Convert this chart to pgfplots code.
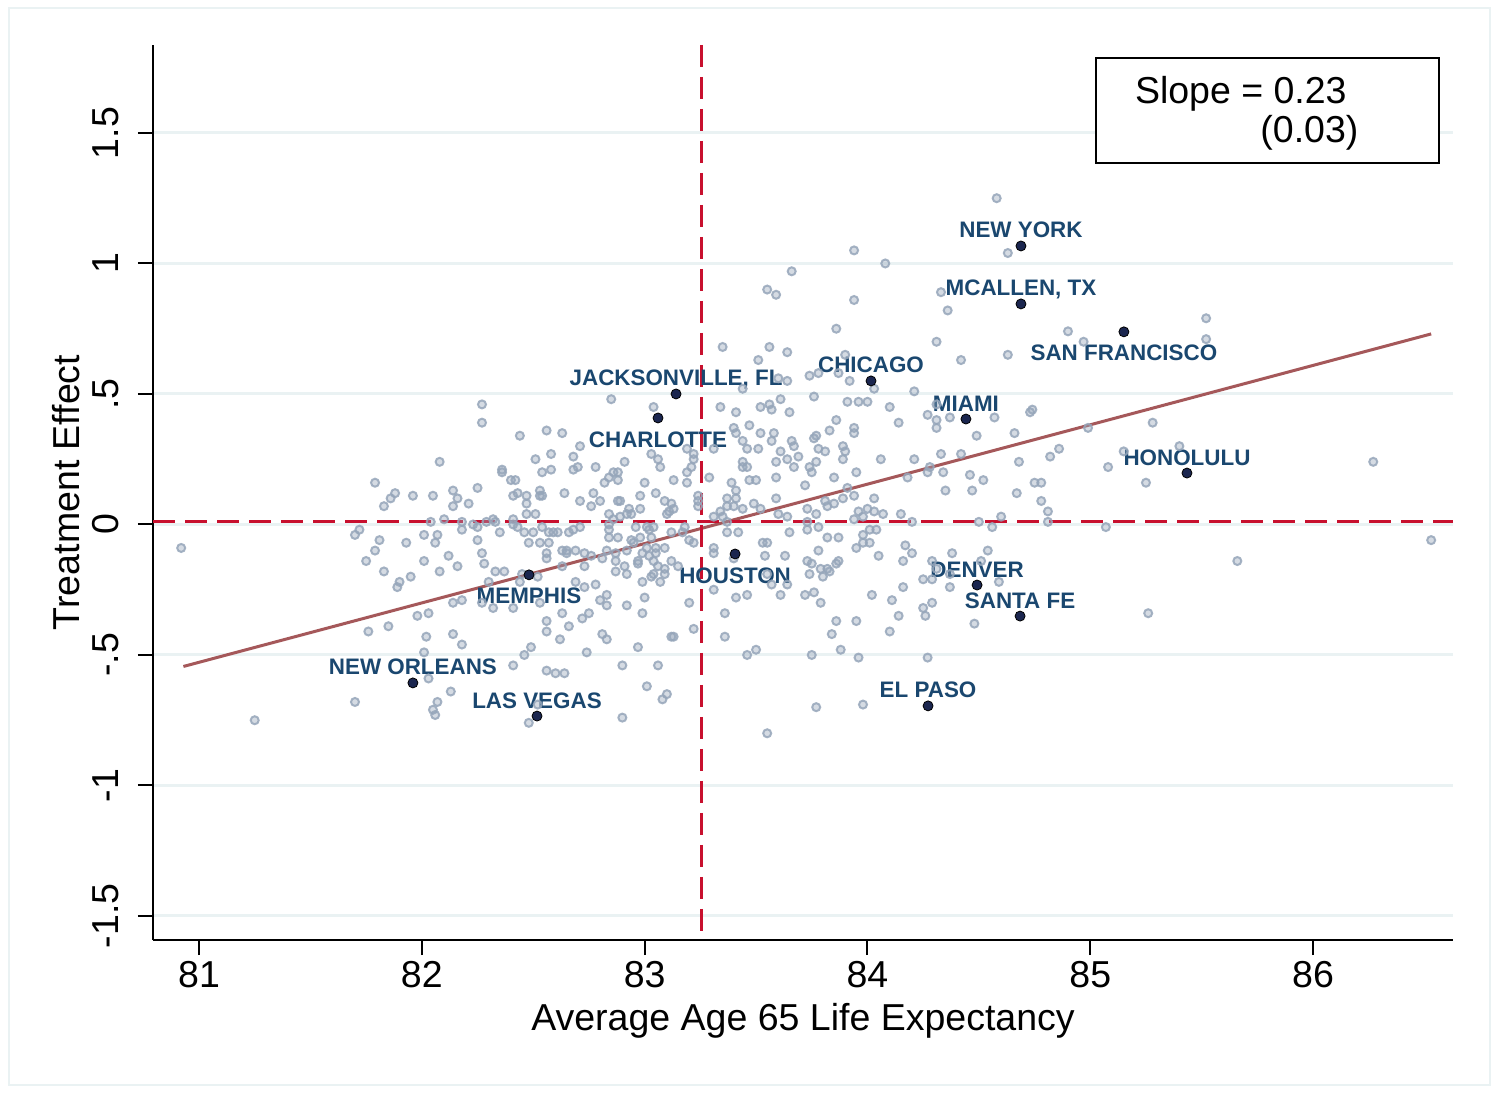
\documentclass[border=0pt]{standalone}
\usepackage{fontspec}
\setmainfont{Liberation Sans}
\usepackage{pgfplots}
\pgfplotsset{compat=1.18}
\definecolor{gridc}{RGB}{234,242,243}
\definecolor{ptc}{RGB}{150,166,186}
\definecolor{dotc}{RGB}{27,38,79}
\definecolor{labc}{RGB}{26,71,111}
\definecolor{fitc}{RGB}{165,88,90}
\definecolor{refc}{RGB}{200,16,46}
\newcommand{\bigf}{\fontsize{18.75}{22}\selectfont}
\tikzset{lab/.style={font=\fontsize{11.2}{13}\selectfont\bfseries, text=labc, inner sep=0pt},
  above lab/.style={lab, anchor=base, yshift=4pt},
  below lab/.style={lab, anchor=north, yshift=-6.5pt}}
\begin{document}
\begin{tikzpicture}
\useasboundingbox (0,0) rectangle (749pt,546.5pt);
\fill[white] (0,0) rectangle (749pt,546.5pt);
\draw[gridc, line width=1pt] (4.25pt,4pt) rectangle (744.75pt,542.25pt);
\begin{axis}[
  at={(76.5pt,76.5pt)}, anchor=south west,
  scale only axis, width=650pt, height=447.5pt,
  xmin=80.7935, xmax=86.628, ymin=-1.592, ymax=1.837,
  axis x line*=bottom, axis y line*=left,
  axis line style={line width=1pt, black, -},
  xtick={81,82,83,84,85,86}, xticklabels={81,82,83,84,85,86},
  ytick={-1.5,-1,-0.5,0,0.5,1,1.5}, yticklabels={-1.5,-1,-.5,0,.5,1,1.5},
  tick align=outside, major tick length=7.5pt,
  tick style={line width=1pt, black},
  ymajorgrids, major grid style={line width=1.5pt, gridc},
  ticklabel style={font=\bigf},
  xticklabel style={anchor=north, inner sep=0pt},
  yticklabel style={rotate=90, anchor=south, inner sep=0pt},
  xticklabel shift=3.1pt, yticklabel shift=9.5pt,
  xlabel={Average Age 65 Life Expectancy},
  ylabel={Treatment Effect},
  xlabel style={at={(axis description cs:0.5,-0.1006)}, anchor=base, inner sep=0pt, font=\bigf},
  ylabel style={at={(axis description cs:-0.0569,0.5)}, anchor=base, inner sep=0pt, font=\bigf},
]
% gray scatter
\addplot[only marks, mark=*, mark size=2pt,
  mark options={fill=ptc, draw=ptc, fill opacity=0.4, draw opacity=0.85, line width=1pt}]
table[row sep=\\] {
x y\\
80.92 -0.09\\ 81.25 -0.75\\ 81.79 0.16\\ 81.88 0.12\\ 81.86 0.10\\ 81.83 0.07\\ 81.96 0.11\\ 82.05 0.11\\
82.14 0.13\\ 82.16 0.10\\ 82.14 0.07\\ 82.21 0.08\\ 82.25 0.14\\ 82.08 0.24\\ 82.04 0.01\\ 82.10 0.02\\
82.18 0.01\\ 82.23 0.00\\ 82.25 -0.01\\ 82.18 -0.02\\ 81.72 -0.02\\ 81.70 -0.04\\ 81.81 -0.06\\ 81.79 -0.10\\
81.75 -0.14\\ 81.83 -0.18\\ 81.93 -0.07\\ 82.01 -0.04\\ 82.07 -0.04\\ 82.06 -0.07\\ 82.12 -0.12\\ 82.16 -0.16\\
82.25 -0.06\\ 82.27 -0.11\\ 82.28 -0.15\\ 82.01 -0.14\\ 82.08 -0.18\\ 81.95 -0.20\\ 81.90 -0.22\\ 81.89 -0.24\\
82.14 -0.30\\ 82.18 -0.29\\ 82.27 -0.30\\ 81.98 -0.35\\ 82.03 -0.34\\ 81.76 -0.41\\ 81.85 -0.39\\ 82.02 -0.43\\
82.14 -0.42\\ 82.18 -0.46\\ 82.01 -0.49\\ 82.03 -0.59\\ 82.13 -0.64\\ 82.07 -0.68\\ 82.05 -0.71\\ 82.06 -0.73\\
81.70 -0.68\\ 82.27 0.46\\ 82.27 0.39\\
82.85 0.48\\ 83.04 0.45\\ 82.44 0.34\\ 82.56 0.36\\ 82.63 0.35\\ 82.71 0.30\\ 82.58 0.27\\ 82.51 0.25\\
82.68 0.26\\ 82.36 0.21\\ 82.36 0.20\\ 82.54 0.20\\ 82.58 0.21\\ 82.68 0.21\\ 82.70 0.22\\ 82.78 0.22\\
82.91 0.24\\ 83.03 0.27\\ 83.06 0.25\\ 83.07 0.22\\ 83.19 0.29\\ 83.22 0.27\\ 83.22 0.25\\ 83.21 0.22\\
83.19 0.20\\ 83.19 0.16\\ 83.31 0.29\\ 82.40 0.17\\ 82.42 0.17\\ 82.84 0.18\\ 82.86 0.20\\ 82.88 0.20\\
82.88 0.17\\ 82.82 0.16\\ 83.00 0.16\\ 83.13 0.17\\ 83.29 0.18\\ 82.41 0.11\\ 82.43 0.12\\ 82.47 0.11\\
82.53 0.13\\ 82.53 0.11\\ 82.54 0.11\\ 82.64 0.12\\ 82.71 0.09\\ 82.77 0.12\\ 82.76 0.07\\ 82.80 0.09\\
82.88 0.09\\ 82.89 0.09\\ 82.98 0.11\\ 83.05 0.12\\ 83.09 0.09\\ 83.12 0.08\\ 83.13 0.06\\ 83.11 0.05\\
83.10 0.04\\ 82.98 0.06\\ 82.94 0.04\\ 82.93 0.06\\ 82.92 0.04\\ 83.24 0.11\\ 83.24 0.09\\ 83.24 0.07\\
82.47 0.08\\ 82.47 0.04\\ 82.51 0.04\\ 82.32 0.02\\ 82.29 0.01\\ 82.33 0.01\\ 82.84 0.04\\ 82.89 0.03\\
82.84 0.00\\ 82.86 0.02\\ 82.41 0.02\\ 82.41 0.00\\ 82.43 -0.01\\ 82.46 -0.03\\ 82.50 -0.03\\ 82.54 -0.01\\
82.57 -0.03\\ 82.59 -0.03\\ 82.66 -0.03\\ 82.68 -0.02\\ 82.71 -0.01\\ 82.84 -0.02\\ 82.84 -0.05\\ 82.88 -0.05\\
82.96 -0.01\\ 83.01 -0.01\\ 83.02 -0.02\\ 83.04 -0.01\\ 82.98 -0.05\\ 83.03 -0.05\\ 82.94 -0.06\\ 83.12 -0.03\\
83.18 -0.01\\ 83.17 -0.03\\ 83.20 -0.06\\ 83.22 -0.07\\ 82.35 -0.03\\ 82.48 -0.07\\ 82.53 -0.07\\ 82.57 -0.07\\
82.61 -0.03\\ 82.65 -0.10\\ 82.69 -0.10\\ 82.65 -0.11\\ 82.73 -0.11\\ 82.83 -0.10\\ 82.87 -0.11\\ 82.92 -0.10\\
82.95 -0.07\\ 82.99 -0.11\\ 83.01 -0.09\\ 83.05 -0.09\\ 83.09 -0.09\\ 83.02 -0.12\\ 82.56 -0.11\\ 82.56 -0.13\\
82.63 -0.10\\ 82.76 -0.12\\ 82.81 -0.13\\ 82.87 -0.14\\ 82.97 -0.14\\ 82.97 -0.15\\ 83.05 -0.11\\ 83.04 -0.14\\
83.06 -0.16\\ 83.09 -0.17\\ 82.33 -0.18\\ 82.37 -0.18\\ 82.45 -0.19\\ 82.52 -0.20\\ 82.87 -0.18\\ 82.92 -0.19\\
83.04 -0.19\\ 83.03 -0.20\\ 83.12 -0.14\\ 83.15 -0.16\\ 83.31 -0.11\\
82.44 -0.22\\ 82.30 -0.22\\ 82.32 -0.32\\ 82.41 -0.32\\ 82.53 -0.30\\ 82.63 -0.16\\ 82.73 -0.16\\ 82.69 -0.22\\
82.73 -0.24\\ 82.78 -0.23\\ 82.83 -0.27\\ 82.80 -0.29\\ 82.83 -0.31\\ 82.92 -0.31\\ 83.00 -0.28\\ 82.99 -0.22\\
83.07 -0.22\\ 83.09 -0.19\\ 82.91 -0.16\\ 83.20 -0.30\\ 83.31 -0.25\\ 83.22 -0.40\\ 82.99 -0.34\\ 82.63 -0.34\\
82.56 -0.37\\ 82.56 -0.41\\ 82.62 -0.44\\ 82.66 -0.39\\ 82.72 -0.36\\ 82.75 -0.34\\ 82.81 -0.42\\ 82.83 -0.44\\
82.97 -0.47\\ 83.12 -0.43\\ 83.13 -0.43\\ 82.49 -0.47\\ 82.46 -0.50\\ 82.41 -0.54\\ 82.56 -0.56\\ 82.60 -0.57\\
82.64 -0.57\\ 82.74 -0.49\\ 82.90 -0.54\\ 83.06 -0.54\\ 83.01 -0.62\\ 83.08 -0.67\\ 83.10 -0.65\\ 82.52 -0.69\\
82.48 -0.76\\ 82.90 -0.74\\
83.94 1.05\\ 84.08 1.00\\ 83.66 0.97\\ 83.55 0.90\\ 83.59 0.88\\ 83.94 0.86\\ 83.86 0.75\\ 83.35 0.68\\
83.56 0.68\\ 83.64 0.66\\ 83.51 0.63\\ 83.90 0.65\\ 83.60 0.56\\ 83.64 0.55\\ 83.74 0.57\\ 83.78 0.58\\
83.87 0.58\\ 83.92 0.55\\ 84.03 0.52\\ 84.21 0.51\\ 83.44 0.52\\ 83.76 0.49\\ 83.61 0.48\\ 83.56 0.46\\
83.57 0.44\\ 83.52 0.45\\ 83.41 0.43\\ 83.34 0.45\\ 83.65 0.43\\ 83.91 0.47\\ 83.96 0.47\\ 84.00 0.47\\
84.10 0.45\\ 84.14 0.39\\ 83.86 0.40\\ 83.94 0.37\\ 83.94 0.35\\ 83.83 0.36\\ 83.77 0.34\\ 83.76 0.33\\
83.66 0.32\\ 83.67 0.30\\ 83.58 0.35\\ 83.57 0.32\\ 83.52 0.35\\ 83.47 0.38\\ 83.40 0.37\\ 83.41 0.35\\
83.44 0.32\\ 83.46 0.29\\ 83.51 0.29\\ 83.61 0.28\\ 83.64 0.25\\ 83.69 0.26\\ 83.78 0.29\\ 83.81 0.28\\
83.89 0.30\\ 83.90 0.28\\ 83.89 0.25\\ 83.77 0.24\\ 83.74 0.22\\ 83.75 0.20\\ 83.59 0.24\\ 83.67 0.22\\
83.44 0.24\\ 83.44 0.22\\ 83.46 0.22\\ 84.06 0.25\\ 84.21 0.25\\ 83.95 0.20\\ 83.85 0.18\\ 84.18 0.18\\
83.47 0.17\\ 83.50 0.17\\ 83.59 0.18\\ 83.72 0.15\\ 83.91 0.14\\ 83.94 0.11\\ 83.89 0.10\\ 83.81 0.09\\
84.03 0.10\\ 84.15 0.04\\ 84.00 0.06\\ 84.03 0.05\\ 84.07 0.04\\ 83.96 0.05\\ 83.98 0.03\\ 84.20 0.01\\
83.94 0.02\\ 83.39 0.16\\ 83.41 0.13\\ 83.41 0.10\\ 83.37 0.10\\ 83.37 0.07\\ 83.40 0.07\\ 83.44 0.06\\
83.49 0.08\\ 83.52 0.06\\ 83.59 0.10\\ 83.60 0.04\\ 83.64 0.03\\ 83.73 0.06\\ 83.77 0.04\\ 83.82 0.07\\
83.85 0.08\\ 83.73 0.01\\ 83.31 0.03\\ 83.34 0.05\\ 83.35 0.03\\ 83.37 0.01\\ 83.37 -0.03\\ 83.42 -0.03\\
83.65 -0.03\\ 83.73 -0.02\\ 83.78 -0.01\\ 83.82 -0.05\\ 83.87 -0.05\\ 83.98 -0.04\\ 84.01 -0.02\\ 84.04 -0.02\\
83.98 -0.07\\ 84.01 -0.07\\ 83.53 -0.07\\ 83.55 -0.07\\ 84.17 -0.08\\ 83.31 -0.09\\
83.40 -0.13\\ 83.54 -0.12\\ 83.63 -0.12\\ 83.78 -0.10\\ 83.73 -0.14\\ 83.75 -0.15\\ 83.74 -0.19\\ 83.79 -0.17\\
83.82 -0.17\\ 83.83 -0.18\\ 83.80 -0.20\\ 83.86 -0.15\\ 83.87 -0.14\\ 83.95 -0.09\\ 84.05 -0.12\\ 84.20 -0.11\\
84.16 -0.14\\ 83.41 -0.28\\ 83.46 -0.27\\ 83.55 -0.19\\ 83.57 -0.23\\ 83.64 -0.23\\ 83.61 -0.27\\ 83.72 -0.27\\
83.76 -0.26\\ 83.79 -0.30\\ 84.02 -0.27\\ 84.11 -0.29\\ 84.16 -0.24\\ 84.14 -0.35\\ 83.95 -0.37\\ 83.86 -0.37\\
83.84 -0.42\\ 84.10 -0.41\\ 83.36 -0.34\\ 83.36 -0.43\\ 83.46 -0.50\\ 83.50 -0.48\\ 83.75 -0.50\\ 83.88 -0.48\\
83.96 -0.51\\ 83.77 -0.70\\ 83.98 -0.69\\ 83.55 -0.80\\
84.58 1.25\\ 84.63 1.04\\ 84.33 0.89\\ 84.36 0.82\\ 84.31 0.70\\ 84.42 0.63\\ 84.63 0.65\\ 84.90 0.74\\
84.97 0.70\\ 85.52 0.79\\ 85.52 0.71\\ 84.31 0.46\\ 84.27 0.42\\ 84.31 0.40\\ 84.37 0.41\\ 84.31 0.37\\
84.57 0.41\\ 84.49 0.34\\ 84.66 0.35\\ 84.73 0.43\\ 84.74 0.44\\ 84.99 0.37\\ 85.28 0.39\\ 84.33 0.27\\
84.42 0.27\\ 84.28 0.22\\ 84.27 0.20\\ 84.34 0.20\\ 84.46 0.19\\ 84.52 0.17\\ 84.68 0.24\\ 84.82 0.26\\
84.86 0.29\\ 85.08 0.22\\ 85.15 0.28\\ 85.40 0.30\\ 84.35 0.13\\ 84.47 0.13\\ 84.67 0.12\\ 84.75 0.16\\
84.78 0.16\\ 84.78 0.09\\ 84.81 0.05\\ 84.81 0.01\\ 84.60 0.03\\ 84.56 -0.01\\ 84.50 0.01\\ 85.25 0.16\\
85.07 -0.01\\ 84.38 -0.11\\ 84.54 -0.10\\ 84.51 -0.14\\ 84.29 -0.14\\ 84.31 -0.17\\ 84.25 -0.21\\ 84.29 -0.21\\
84.37 -0.24\\ 84.37 -0.19\\ 84.59 -0.22\\ 84.25 -0.32\\ 84.29 -0.30\\ 84.26 -0.35\\ 84.48 -0.38\\ 84.27 -0.51\\
85.26 -0.34\\ 86.27 0.24\\ 86.53 -0.06\\ 85.66 -0.14\\
};
% fitted line
\addplot[fitc, line width=1.5pt] coordinates {(80.93,-0.544) (86.53,0.730)};
% reference lines
\addplot[refc, line width=1.5pt, dash pattern=on 11pt off 5pt] coordinates {(80.7935,0.013) (86.628,0.013)};
\addplot[refc, line width=1.5pt, dash pattern=on 11pt off 5pt] coordinates {(83.253,1.837) (83.253,-1.592)};
% highlighted cities
\addplot[only marks, mark=*, mark size=2.5pt, mark options={fill=dotc, draw=none}] coordinates {
(84.689,1.067) (84.689,0.845) (85.151,0.738) (84.016,0.550) (83.141,0.500)
(83.060,0.408) (84.442,0.404) (85.434,0.197) (83.406,-0.113) (82.481,-0.193)
(84.492,-0.232) (84.685,-0.351) (81.960,-0.607) (82.517,-0.734) (84.272,-0.695)};
\node[above lab] at (axis cs:84.689,1.067) {NEW YORK};
\node[above lab] at (axis cs:84.689,0.845) {MCALLEN, TX};
\node[below lab] at (axis cs:85.151,0.738) {SAN FRANCISCO};
\node[above lab] at (axis cs:84.016,0.550) {CHICAGO};
\node[above lab] at (axis cs:83.141,0.500) {JACKSONVILLE, FL};
\node[below lab] at (axis cs:83.060,0.408) {CHARLOTTE};
\node[above lab] at (axis cs:84.442,0.404) {MIAMI};
\node[above lab] at (axis cs:85.434,0.197) {HONOLULU};
\node[below lab] at (axis cs:83.406,-0.113) {HOUSTON};
\node[below lab] at (axis cs:82.481,-0.193) {MEMPHIS};
\node[above lab] at (axis cs:84.492,-0.232) {DENVER};
\node[above lab] at (axis cs:84.685,-0.351) {SANTA FE};
\node[above lab] at (axis cs:81.960,-0.607) {NEW ORLEANS};
\node[above lab] at (axis cs:82.517,-0.734) {LAS VEGAS};
\node[above lab] at (axis cs:84.272,-0.695) {EL PASO};
\end{axis}
\draw[black, line width=1pt, fill=white] (548pt,465pt) rectangle (719.5pt,517.5pt);
\node[anchor=base west, inner sep=0pt, font=\bigf] at (567.3pt,494.8pt) {Slope = 0.23};
\node[anchor=base west, inner sep=0pt, font=\bigf] at (630pt,475.2pt) {(0.03)};
\end{tikzpicture}
\end{document}
